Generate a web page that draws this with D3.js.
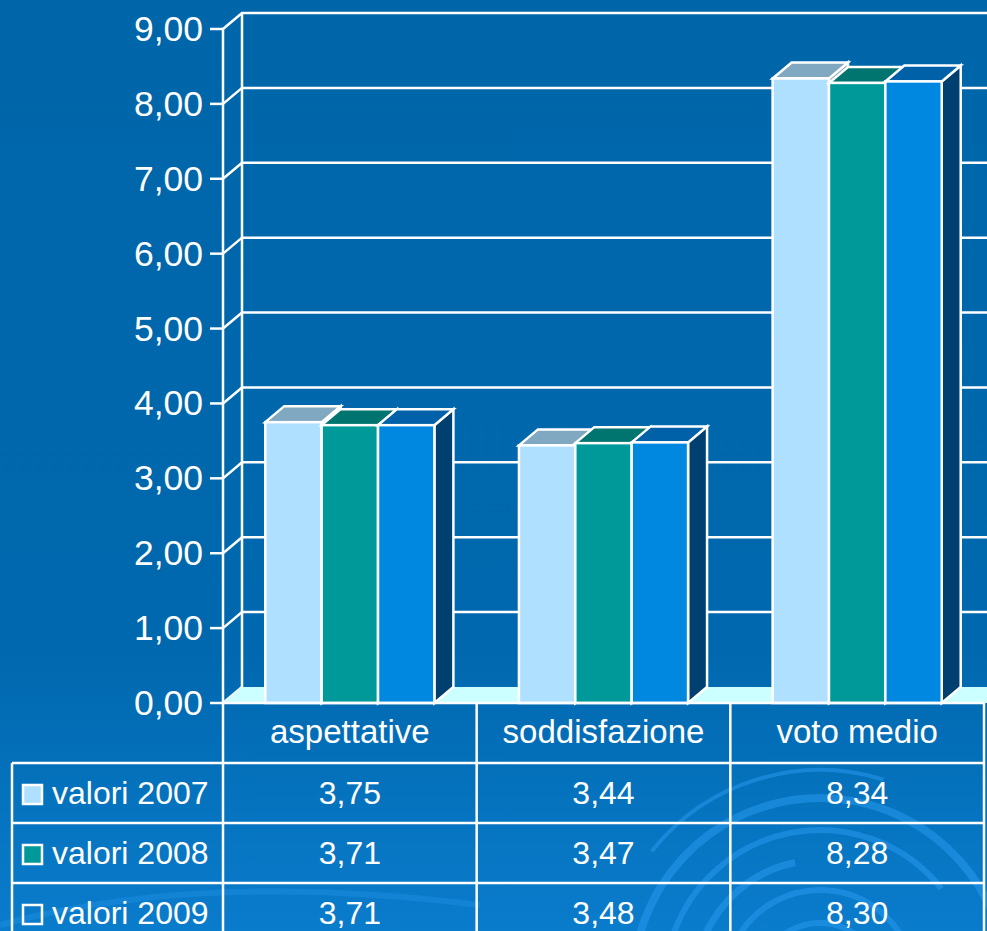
<!DOCTYPE html>
<html>
<head>
<meta charset="utf-8">
<script src="https://cdn.jsdelivr.net/npm/d3@7"></script>
<style>
  html, body { margin: 0; padding: 0; background: #0066aa; }
  svg { display: block; }
  text { font-family: "Liberation Sans", Arial, sans-serif; fill: #ffffff; }
</style>
</head>
<body>
<svg id="chart" width="987" height="931"></svg>
<script>
// Categories, series and axis ticks
const categories = ["aspettative", "soddisfazione", "voto medio"];
const seriesNames = ["valori 2007", "valori 2008", "valori 2009"];
const values2007 = [3.75, 3.44, 8.34];
const values2008 = [3.71, 3.47, 8.28];
const values2009 = [3.71, 3.48, 8.30];
const yTicks = [0, 1, 2, 3, 4, 5, 6, 7, 8, 9];

const seriesValues = [values2007, values2008, values2009];

// Face colours per series: front, top, side
const faceColors = [
  { front: "#b0e0ff", top: "#80a8c0", side: "#6a93b0", key: "#b0e0ff" },
  { front: "#009999", top: "#007570", side: "#005a55", key: "#009999" },
  { front: "#0088e0", top: "#0060a8", side: "#004070", key: "none" }
];

const W = 987, H = 931;
const svg = d3.select("#chart");

// Oblique depth offset of the 3D box
const DX = 19, DY = 16;

const plotLeft = 223, plotRight = 984;
const y = d3.scaleLinear().domain([0, 9]).range([703, 29]);
const x = d3.scaleBand().domain(categories).range([plotLeft, plotRight]).paddingInner(0).paddingOuter(0);
const xs = d3.scaleBand().domain(d3.range(seriesNames.length)).range([0, x.bandwidth()])
  .paddingInner(0).paddingOuter(0.75);

const itLocale = d3.formatLocale({ decimal: ",", thousands: ".", grouping: [3], currency: ["€", ""] });
const fmt = itLocale.format(".2f");

// Background
const defs = svg.append("defs");
const bgGrad = defs.append("linearGradient").attr("id", "bg").attr("x1", 0).attr("y1", 0).attr("x2", 0).attr("y2", 1);
bgGrad.append("stop").attr("offset", "0%").attr("stop-color", "#0066aa");
bgGrad.append("stop").attr("offset", "70%").attr("stop-color", "#0068ae");
bgGrad.append("stop").attr("offset", "100%").attr("stop-color", "#0a7ccc");
svg.append("rect").attr("width", W).attr("height", H).attr("fill", "url(#bg)");

// Decorative swirl in the lower part of the slide
const swirl = svg.append("g").attr("fill", "none").attr("stroke", "#2a9cf2").attr("stroke-opacity", 0.5);
const arcs = [
  { r: 187, a0: -1.75, a1: 1.2, w: 8 },
  { r: 155, a0: -1.3, a1: 0.9, w: 6 },
  { r: 125, a0: -1.9, a1: -0.2, w: 7 },
  { r: 95, a0: -1.1, a1: 1.4, w: 6 },
  { r: 62, a0: -1.6, a1: 0.6, w: 6 },
  { r: 215, a0: -0.9, a1: 0.3, w: 4 }
];
arcs.forEach(a => {
  swirl.append("path")
    .attr("transform", "translate(820,985)")
    .attr("stroke-width", a.w)
    .attr("d", d3.arc()({ innerRadius: a.r, outerRadius: a.r, startAngle: a.a0, endAngle: a.a1 }));
});
svg.append("path").attr("fill", "none").attr("stroke", "#2a9cf2").attr("stroke-opacity", 0.3)
  .attr("stroke-width", 6)
  .attr("d", "M0,925 Q200,870 480,905");

// Walls and gridlines
const grid = svg.append("g").attr("stroke", "#ffffff").attr("stroke-width", 2.5).attr("fill", "none");
const backRight = plotRight + DX + 10;
// floor
svg.append("path")
  .attr("d", `M${plotLeft},${y(0)} L${plotLeft + DX},${y(0) - DY} L${backRight},${y(0) - DY} L${backRight - DX},${y(0)} Z`)
  .attr("fill", "#ccffff");
yTicks.forEach(t => {
  grid.append("path")
    .attr("d", `M${plotLeft},${y(t)} L${plotLeft + DX},${y(t) - DY}` + (t > 0 ? ` L${backRight},${y(t) - DY}` : ""));
  grid.append("line").attr("x1", plotLeft - 13).attr("x2", plotLeft).attr("y1", y(t)).attr("y2", y(t));
});
grid.append("line").attr("x1", plotLeft).attr("x2", plotLeft).attr("y1", y(9)).attr("y2", y(0));
grid.append("line").attr("x1", plotLeft + DX).attr("x2", plotLeft + DX).attr("y1", y(9) - DY).attr("y2", y(0) - DY);

// Y tick labels
svg.append("g").selectAll("text").data(yTicks).join("text")
  .attr("x", 203).attr("y", d => y(d) + 12)
  .attr("text-anchor", "end").attr("font-size", 35.5)
  .text(d => fmt(d));

// Bars as oblique boxes
const barsG = svg.append("g").attr("stroke", "#ffffff").attr("stroke-width", 2.5).attr("stroke-linejoin", "miter");
categories.forEach((cat, ci) => {
  seriesValues.forEach((vals, si) => {
    const x0 = x(cat) + xs(si);
    const x1 = x0 + xs.bandwidth();
    const yt = y(vals[ci]);
    const yb = y(0);
    const c = faceColors[si];
    const g = barsG.append("g");
    g.append("path").attr("fill", c.side)
      .attr("d", `M${x1},${yb} L${x1 + DX},${yb - DY} L${x1 + DX},${yt - DY} L${x1},${yt} Z`);
    g.append("path").attr("fill", c.top)
      .attr("d", `M${x0},${yt} L${x0 + DX},${yt - DY} L${x1 + DX},${yt - DY} L${x1},${yt} Z`);
    g.append("rect").attr("fill", c.front)
      .attr("x", x0).attr("y", yt).attr("width", x1 - x0).attr("height", yb - yt);
  });
});

// Data table
const headerTop = 703, rowH = 60, tableLeft = 12;
const rowTop = i => headerTop + rowH * (i + 1);
const tbl = svg.append("g").attr("stroke", "#ffffff").attr("stroke-width", 2.5);
tbl.append("line").attr("x1", plotLeft).attr("x2", plotRight).attr("y1", headerTop).attr("y2", headerTop);
seriesNames.forEach((s, i) => {
  tbl.append("line").attr("x1", tableLeft).attr("x2", plotRight).attr("y1", rowTop(i)).attr("y2", rowTop(i));
});
tbl.append("line").attr("x1", tableLeft).attr("x2", tableLeft).attr("y1", rowTop(0)).attr("y2", H + 5);
[plotLeft, ...categories.map(c => x(c) + x.bandwidth())].forEach(vx => {
  tbl.append("line").attr("x1", vx).attr("x2", vx).attr("y1", headerTop).attr("y2", H + 5);
});

svg.append("g").selectAll("text").data(categories).join("text")
  .attr("x", d => x(d) + x.bandwidth() / 2).attr("y", headerTop + 40)
  .attr("text-anchor", "middle").attr("font-size", 33)
  .text(d => d);

seriesNames.forEach((s, si) => {
  const base = rowTop(si) + 41;
  svg.append("rect")
    .attr("x", 23).attr("y", base - 19).attr("width", 19).attr("height", 19)
    .attr("fill", faceColors[si].key).attr("stroke", "#ffffff").attr("stroke-width", 2.5);
  svg.append("text").attr("x", 52).attr("y", base).attr("font-size", 32).text(s);
  svg.append("g").selectAll("text").data(seriesValues[si]).join("text")
    .attr("x", (d, ci) => x(categories[ci]) + x.bandwidth() / 2).attr("y", base)
    .attr("text-anchor", "middle").attr("font-size", 32)
    .text(d => fmt(d));
});
</script>
</body>
</html>
